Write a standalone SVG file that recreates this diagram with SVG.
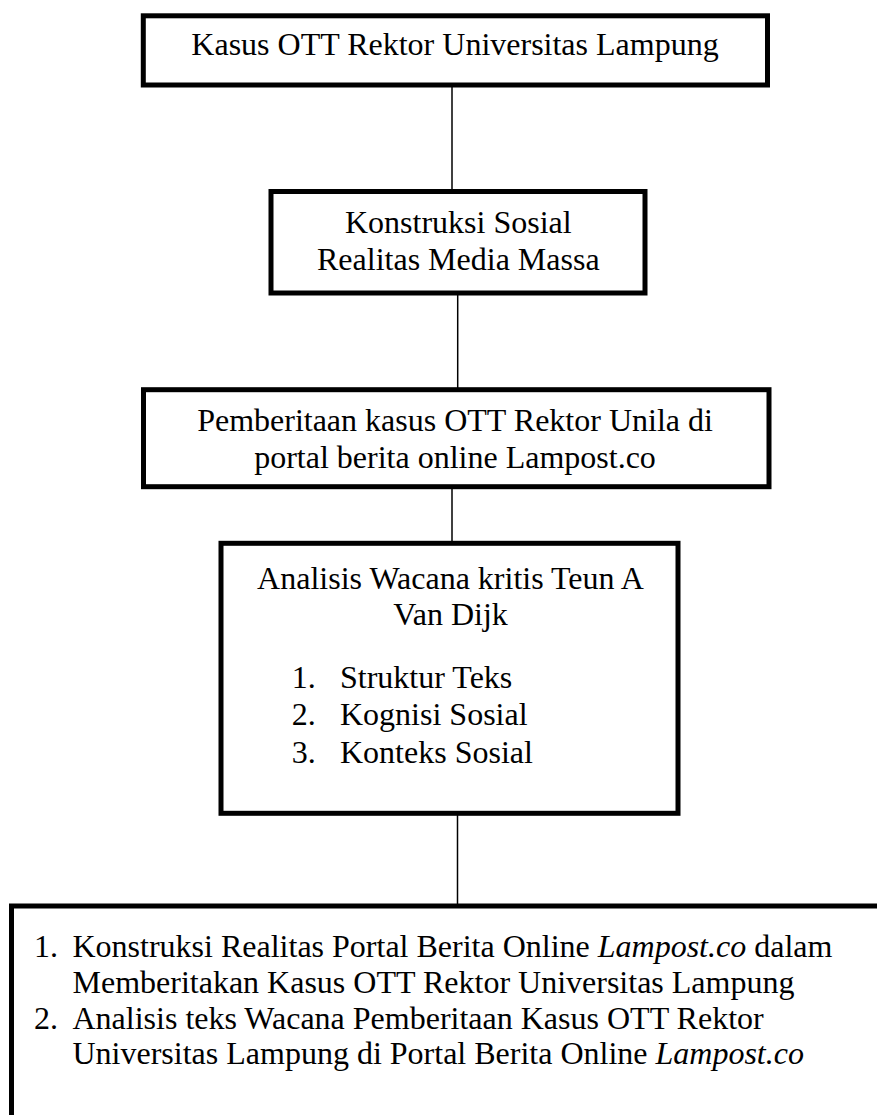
<svg xmlns="http://www.w3.org/2000/svg" width="877" height="1115" viewBox="0 0 877 1115">
<style>
.box{fill:#fff;stroke:#000;stroke-width:5;stroke-linejoin:miter}
.conn{stroke:#000;stroke-width:1.5;fill:none}
text{font-family:"Liberation Serif","Times New Roman",serif;font-size:32px;fill:#000}
.c{text-anchor:middle}
</style>
<rect width="877" height="1115" fill="#fff"/>
<g id="connectors">
<line class="conn" x1="452" y1="85" x2="452" y2="192"/>
<line class="conn" x1="457.7" y1="293" x2="457.7" y2="390"/>
<line class="conn" x1="452" y1="487" x2="452" y2="543"/>
<line class="conn" x1="457.5" y1="813" x2="457.5" y2="906"/>
</g>
<g id="node1">
<rect class="box" x="143.3" y="15.8" width="624.2" height="69.2"/>
<text class="c" x="455" y="55">Kasus OTT Rektor Universitas Lampung</text>
</g>
<g id="node2">
<rect class="box" x="271" y="191.5" width="374" height="101.5"/>
<text class="c" x="458.3" y="233">Konstruksi Sosial</text>
<text class="c" x="458.3" y="270">Realitas Media Massa</text>
</g>
<g id="node3">
<rect class="box" x="143.5" y="389.7" width="625.5" height="97"/>
<text class="c" x="455" y="431">Pemberitaan kasus OTT Rektor Unila di</text>
<text class="c" x="455" y="468">portal berita online Lampost.co</text>
</g>
<g id="node4">
<rect class="box" x="221" y="543.3" width="457" height="270"/>
<text class="c" x="450.5" y="589">Analisis Wacana kritis Teun A</text>
<text class="c" x="450.5" y="625">Van Dijk</text>
<text x="291.7" y="688">1.</text><text x="340" y="688">Struktur Teks</text>
<text x="291.7" y="725">2.</text><text x="340" y="725">Kognisi Sosial</text>
<text x="291.7" y="763">3.</text><text x="340" y="763">Konteks Sosial</text>
</g>
<g id="node5">
<rect class="box" x="11.5" y="906" width="900" height="300"/>
<text x="34" y="957">1.</text>
<text x="72.5" y="957">Konstruksi Realitas Portal Berita Online <tspan font-style="italic">Lampost.co</tspan> dalam</text>
<text x="72.5" y="993">Memberitakan Kasus OTT Rektor Universitas Lampung</text>
<text x="34" y="1029">2.</text>
<text x="72.5" y="1029">Analisis teks Wacana Pemberitaan Kasus OTT Rektor</text>
<text x="72.5" y="1064">Universitas Lampung di Portal Berita Online <tspan font-style="italic">Lampost.co</tspan></text>
</g>
</svg>
